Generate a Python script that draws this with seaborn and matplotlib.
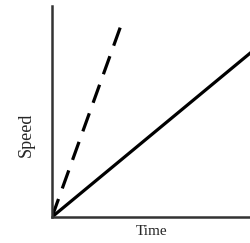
import pandas as pd
import matplotlib.pyplot as plt
import seaborn as sns

# data
time_solid = [0, 10]
speed_solid = [0, 7.8]
time_dashed = [0, 3.55]
speed_dashed = [0, 9.3]

sns.set_style("white")
plt.rcParams['font.family'] = ['Liberation Serif', 'DejaVu Serif']

fig = plt.figure(figsize=(2.51, 2.43), dpi=100)
ax = fig.add_axes([52 / 251, 26 / 243, 199 / 251, 211 / 243])

sns.lineplot(x=time_solid, y=speed_solid, ax=ax, color="black", linewidth=2.3)
sns.lineplot(x=time_dashed, y=speed_dashed, ax=ax, color="black", linewidth=2.3,
             linestyle=(0, (6, 3.5)))

ax.set_xlim(0, 10)
ax.set_ylim(0, 10)
ax.set_xticks([])
ax.set_yticks([])
for s in ["top", "right"]:
    ax.spines[s].set_visible(False)
for s in ["left", "bottom"]:
    ax.spines[s].set_color("#333333")
    ax.spines[s].set_linewidth(1.8)

# axis labels
ax.set_xlabel("Time", fontsize=11, labelpad=6)
ax.set_ylabel("Speed", fontsize=13)
ax.yaxis.set_label_coords(-0.085, 0.39)

fig.savefig("out.png", dpi=100)
